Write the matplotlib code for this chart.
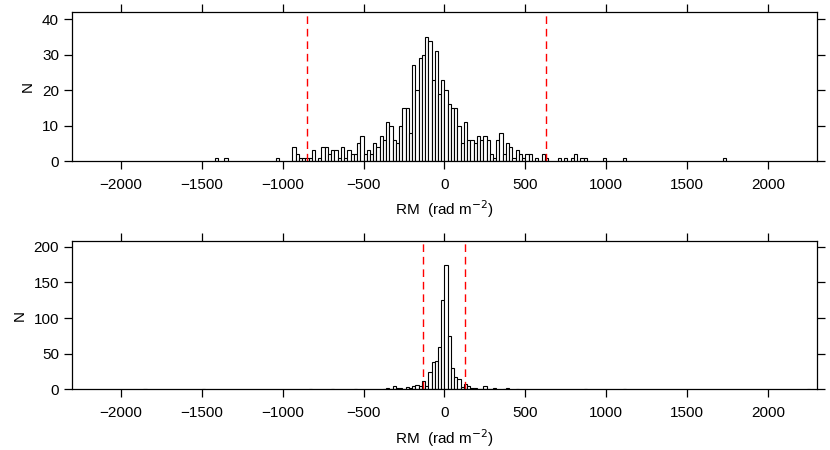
import numpy as np
import matplotlib
matplotlib.use("Agg")
import matplotlib.pyplot as plt

plt.rcParams["font.family"] = ["Liberation Sans", "DejaVu Sans"]
plt.rcParams["font.size"] = 11

# bin width of both histograms (rad m^-2)
bin_width = 20

# top panel: contiguous run of bins starting at -940
top_core_start = -940
top_core_counts = [4, 2, 1, 1, 1, 1, 3, 0, 1, 4,
                   4, 2, 3, 3, 1, 4, 1, 3, 2, 2,
                   5, 7, 2, 3, 2, 5, 4, 7, 6, 11,
                   10, 6, 5, 10, 15, 15, 8, 27, 20, 29,
                   30, 35, 34, 23, 31, 19, 23, 20, 16, 15,
                   15, 10, 5, 11, 6, 6, 5, 7, 6, 7,
                   6, 2, 1, 6, 8, 2, 5, 4, 1, 3,
                   2, 1, 2, 2, 0, 1, 0, 2, 1]
# isolated bins in the tails
top_tail_bins = [-1420, -1360, -1040, 700, 740, 780, 800, 840, 860, 980, 1100, 1720]
top_tail_counts = [1, 1, 1, 1, 1, 1, 2, 1, 1, 1, 1, 1]
top_cuts = [-848, 630]

# bottom panel
bot_core_start = -380
bot_core_counts = [1, 2, 1, 5, 2, 2, 1, 3, 2, 5,
                   6, 4, 11, 5, 24, 38, 40, 60, 126,
                   174, 75, 30, 17, 14, 3, 7, 5, 2, 2,
                   0, 0, 5, 0, 0, 2]
bot_tail_bins = [-1860, -1500, -840, -700, -560, 360, 380, 440, 860, 1100, 2240]
bot_tail_counts = [1, 1, 1, 1, 1, 1, 2, 1, 1, 1, 1]
bot_cuts = [-130, 124]

fig = plt.figure(figsize=(8.3, 4.5), dpi=100)
ax_top = fig.add_axes([0.087, 0.642, 0.897, 0.331])
ax_bot = fig.add_axes([0.087, 0.135, 0.897, 0.329])

panels = [
    (ax_top, top_core_start, top_core_counts, top_tail_bins, top_tail_counts, top_cuts, 42, [0, 10, 20, 30, 40]),
    (ax_bot, bot_core_start, bot_core_counts, bot_tail_bins, bot_tail_counts, bot_cuts, 208, [0, 50, 100, 150, 200]),
]

for ax, start, core, tail_bins, tail_counts, cuts, ymax, yticks in panels:
    lefts = list(start + bin_width * np.arange(len(core))) + tail_bins
    counts = list(core) + tail_counts
    ax.bar(lefts, counts, width=bin_width, align="edge",
           facecolor="white", edgecolor="black", linewidth=0.8)
    for c in cuts:
        ax.axvline(c, color="red", linestyle=(0, (5.5, 3.5)), linewidth=1.0)
    ax.set_xlim(-2300, 2300)
    ax.set_ylim(0, ymax)
    ax.set_xticks(np.arange(-2000, 2001, 500))
    ax.set_yticks(yticks)
    ax.tick_params(top=True, right=True, direction="out", length=6, width=0.9)
    ax.tick_params(axis="x", pad=6)
    for s in ax.spines.values():
        s.set_linewidth(0.9)
    ax.set_xlabel(r"RM  (rad m$^{-2}$)", labelpad=5)
    ax.set_ylabel("N", labelpad=5)

fig.savefig("out.png", dpi=100)
